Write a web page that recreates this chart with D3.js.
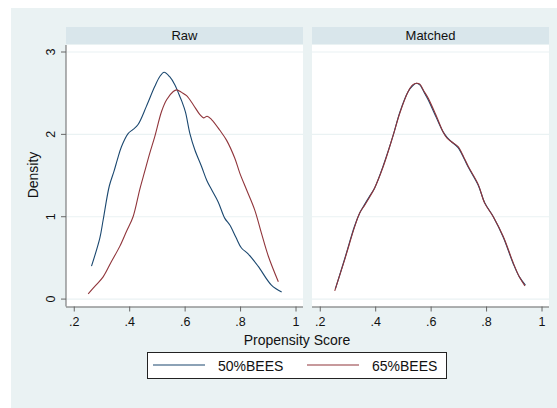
<!DOCTYPE html>
<html>
<head>
<meta charset="utf-8">
<script src="https://cdn.jsdelivr.net/npm/d3@7"></script>
<style>
  body { margin: 0; background: #fff; }
  text { font-family: Arial, "Liberation Sans", sans-serif; fill: #111; }
</style>
</head>
<body>
<svg id="chart" width="557" height="408"></svg>
<script>
// kernel density estimates as [propensity, density]
const raw50 = [
  [0.264, 0.40], [0.294, 0.74], [0.306, 0.96], [0.328, 1.37], [0.345, 1.55],
  [0.357, 1.69], [0.372, 1.85], [0.396, 2.01], [0.414, 2.06], [0.432, 2.12],
  [0.462, 2.34], [0.492, 2.58], [0.51, 2.70], [0.526, 2.755], [0.546, 2.70],
  [0.565, 2.60], [0.579, 2.49], [0.59, 2.40], [0.603, 2.27], [0.619, 2.01],
  [0.637, 1.81], [0.661, 1.61], [0.68, 1.44], [0.697, 1.33], [0.721, 1.18],
  [0.745, 0.98], [0.763, 0.90], [0.785, 0.75], [0.805, 0.62], [0.829, 0.55],
  [0.865, 0.40], [0.913, 0.17], [0.95, 0.085]
];
const raw65 = [
  [0.252, 0.064], [0.28, 0.17], [0.306, 0.27], [0.335, 0.45], [0.366, 0.64],
  [0.39, 0.82], [0.414, 1.0], [0.438, 1.33], [0.456, 1.55], [0.474, 1.77],
  [0.492, 1.97], [0.517, 2.28], [0.535, 2.42], [0.559, 2.52], [0.571, 2.54],
  [0.589, 2.51], [0.607, 2.47], [0.631, 2.36], [0.655, 2.24], [0.668, 2.20],
  [0.681, 2.22], [0.697, 2.18], [0.727, 2.05], [0.751, 1.93], [0.781, 1.71],
  [0.799, 1.53], [0.823, 1.33], [0.853, 1.08], [0.877, 0.80], [0.902, 0.52],
  [0.938, 0.21]
];
const matched50 = [
  [0.256, 0.12], [0.29, 0.49], [0.326, 0.89], [0.345, 1.05], [0.362, 1.15],
  [0.38, 1.25], [0.398, 1.35], [0.429, 1.62], [0.465, 1.99], [0.489, 2.27],
  [0.519, 2.52], [0.535, 2.59], [0.549, 2.62], [0.561, 2.60], [0.575, 2.52],
  [0.591, 2.42], [0.621, 2.20], [0.645, 2.03], [0.66, 1.96], [0.675, 1.91],
  [0.699, 1.84], [0.72, 1.71], [0.736, 1.60], [0.772, 1.38], [0.795, 1.17],
  [0.826, 1.0], [0.862, 0.75], [0.898, 0.43], [0.92, 0.27], [0.942, 0.17]
];
const matched65 = [
  [0.254, 0.10], [0.29, 0.48], [0.326, 0.88], [0.345, 1.05], [0.362, 1.14],
  [0.38, 1.24], [0.398, 1.35], [0.429, 1.61], [0.465, 1.99], [0.489, 2.26],
  [0.519, 2.52], [0.535, 2.60], [0.549, 2.62], [0.561, 2.61], [0.575, 2.53],
  [0.591, 2.44], [0.621, 2.22], [0.645, 2.03], [0.66, 1.95], [0.675, 1.91],
  [0.699, 1.85], [0.72, 1.72], [0.736, 1.61], [0.772, 1.39], [0.795, 1.165],
  [0.826, 1.0], [0.862, 0.76], [0.898, 0.44], [0.92, 0.27], [0.94, 0.16]
];

const panelNames = ['Raw', 'Matched'];
const seriesNames = ['50%BEES', '65%BEES'];
const xTicks = [0.2, 0.4, 0.6, 0.8, 1];
const yTicks = [0, 1, 2, 3];

const colors = ['#1a476f', '#90353b'];
const panels = [
  { name: panelNames[0], left: 66, series: [raw50, raw65] },
  { name: panelNames[1], left: 312, series: [matched50, matched65] }
];

const plot = { top: 45, bottom: 306.5, width: 237 };
const svg = d3.select('#chart');

svg.append('rect')
  .attr('x', 11).attr('y', 8)
  .attr('width', 546).attr('height', 400)
  .attr('fill', '#eaf2f3');

const y = d3.scaleLinear().domain([-0.09, 3.085]).range([plot.bottom, plot.top]);
const fmt = v => v === 1 ? '1' : d3.format('.1f')(v).replace(/^0/, '');

panels.forEach((p, pi) => {
  const x = d3.scaleLinear().domain([0.172, 1.027]).range([p.left, p.left + plot.width]);
  const g = svg.append('g');

  // strip
  g.append('rect')
    .attr('x', p.left).attr('y', 27)
    .attr('width', plot.width).attr('height', 17)
    .attr('fill', '#d9e6eb');
  g.append('text')
    .attr('x', p.left + plot.width / 2).attr('y', 40)
    .attr('text-anchor', 'middle')
    .attr('font-size', 13)
    .text(p.name);

  // plot region
  g.append('rect')
    .attr('x', p.left).attr('y', plot.top)
    .attr('width', plot.width).attr('height', plot.bottom - plot.top)
    .attr('fill', '#fff');

  g.selectAll('line.grid').data(yTicks)
    .enter().append('line').attr('class', 'grid')
    .attr('x1', p.left).attr('x2', p.left + plot.width)
    .attr('y1', d => y(d)).attr('y2', d => y(d))
    .attr('stroke', '#eaf2f3').attr('stroke-width', 1.2);

  // x axis
  const xAxis = g.append('g')
    .attr('transform', `translate(0,${plot.bottom})`)
    .call(d3.axisBottom(x).tickValues(xTicks).tickSize(5).tickPadding(6).tickFormat(fmt));
  xAxis.select('.domain').attr('stroke', '#666').attr('d', `M${p.left},0.5H${p.left + plot.width}`);
  xAxis.selectAll('.tick line').attr('stroke', '#666');
  xAxis.selectAll('text').attr('font-size', 12.5).attr('font-family', 'Arial, "Liberation Sans", sans-serif').attr('fill', '#111');

  // y axis only on first panel
  if (pi === 0) {
    g.append('line')
      .attr('x1', p.left).attr('x2', p.left)
      .attr('y1', plot.top).attr('y2', plot.bottom)
      .attr('stroke', '#666');
    g.selectAll('line.ytick').data(yTicks)
      .enter().append('line').attr('class', 'ytick')
      .attr('x1', p.left - 5).attr('x2', p.left)
      .attr('y1', d => y(d)).attr('y2', d => y(d))
      .attr('stroke', '#666');
    g.selectAll('text.ylab').data(yTicks)
      .enter().append('text').attr('class', 'ylab')
      .attr('transform', d => `translate(55,${y(d)}) rotate(-90)`)
      .attr('text-anchor', 'middle')
      .attr('font-size', 12.5)
      .text(d => d);
  }

  const line = d3.line()
    .x(d => x(d[0]))
    .y(d => y(d[1]))
    .curve(d3.curveCatmullRom);

  p.series.forEach((s, si) => {
    g.append('path')
      .datum(s)
      .attr('d', line)
      .attr('fill', 'none')
      .attr('stroke', colors[si])
      .attr('stroke-width', 1.1);
  });
});

// axis titles
svg.append('text')
  .attr('transform', 'translate(38,175) rotate(-90)')
  .attr('text-anchor', 'middle')
  .attr('font-size', 14)
  .text('Density');

svg.append('text')
  .attr('x', 297).attr('y', 345)
  .attr('text-anchor', 'middle')
  .attr('font-size', 14)
  .text('Propensity Score');

// legend
const legend = svg.append('g');
legend.append('rect')
  .attr('x', 147.5).attr('y', 352.5)
  .attr('width', 299).attr('height', 26)
  .attr('fill', '#fff')
  .attr('stroke', '#222');

const legendX = [153, 307];
seriesNames.forEach((name, i) => {
  legend.append('line')
    .attr('x1', legendX[i]).attr('x2', legendX[i] + 52)
    .attr('y1', 365).attr('y2', 365)
    .attr('stroke', colors[i]).attr('stroke-width', 1.1);
  legend.append('text')
    .attr('x', legendX[i] + 65).attr('y', 370.5)
    .attr('font-size', 14)
    .text(name);
});
</script>
</body>
</html>
